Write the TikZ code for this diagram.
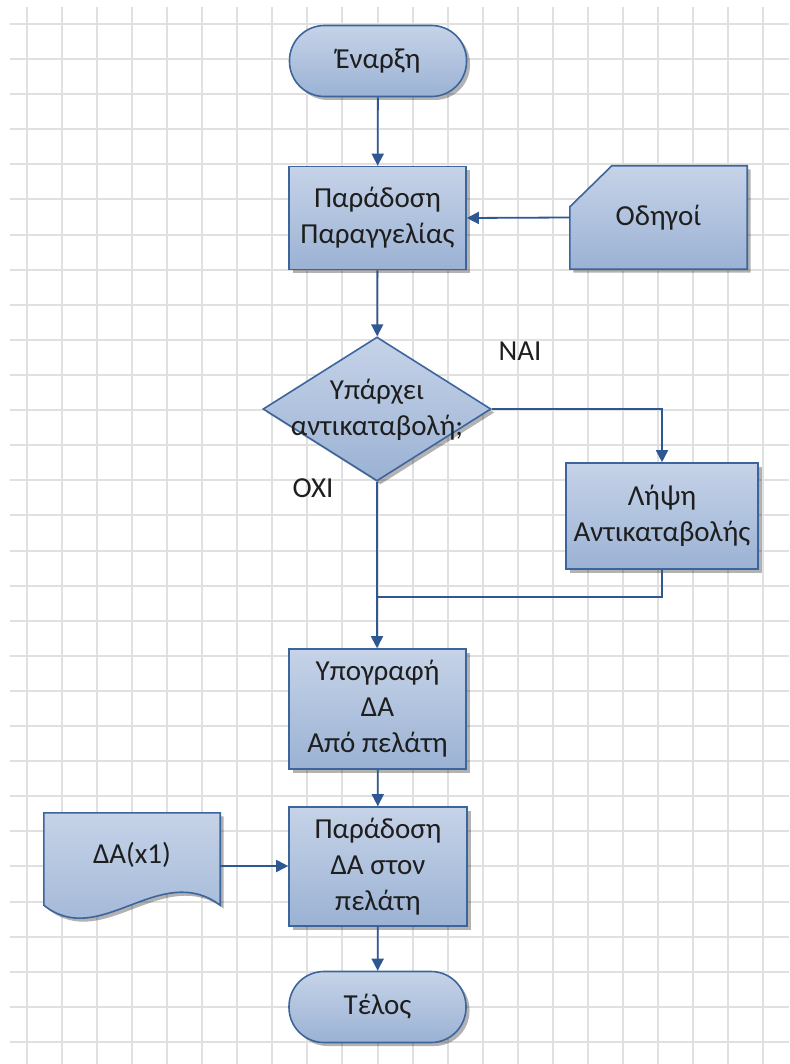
\documentclass[tikz,border=0pt]{standalone}
\usepackage{fontspec}
\setmainfont{Carlito}
\usetikzlibrary{shapes.geometric,shadows,arrows.meta,calc}
\definecolor{gridc}{HTML}{E0E0E0}
\definecolor{boxtop}{HTML}{C6D3E8}
\definecolor{boxbot}{HTML}{9BB2D4}
\definecolor{edgec}{HTML}{3D659D}
\definecolor{flowc}{HTML}{2F5893}
\definecolor{ink}{HTML}{1E1E1E}
\begin{document}
\begin{tikzpicture}[x=1pt,y=-1pt,
  font=\fontsize{29}{36}\selectfont, text=ink,
  fillshape/.style={draw=edgec, line width=1.6pt, top color=boxtop, bottom color=boxbot,
    drop shadow={shadow xshift=3.5pt, shadow yshift=-3.5pt, opacity=0.3, fill=black}},
  procbox/.style={fillshape, rectangle, align=center, inner sep=0pt},
  termbox/.style={fillshape, rectangle, rounded corners=35pt, minimum width=177pt, minimum height=71pt},
  frame/.style={rectangle, inner sep=0pt},
  lbl/.style={align=center, inner sep=0pt},
  flow/.style={draw=flowc, line width=1.8pt, -{Triangle[length=12pt,width=12pt]}},
  flowplain/.style={draw=flowc, line width=1.8pt}]

\useasboundingbox (0,0) rectangle (789,1064);

% background grid
\foreach \k in {0,...,21}
  \draw[gridc, line width=2pt] ({27+35.05*\k},7) -- ({27+35.05*\k},1064);
\foreach \k in {0,...,29}
  \draw[gridc, line width=2pt] (10,{24+35.1*\k}) -- (789,{24+35.1*\k});

% terminators
\node[termbox] (start) at (378,61) {Έναρξη};
\node[termbox] (end) at (377.5,1007) {Τέλος};

% process boxes
\node[procbox, minimum width=177pt, minimum height=103pt] (order) at (377.5,218) {Παράδοση\\Παραγγελίας};
\node[procbox, minimum width=192pt, minimum height=106pt] (cod) at (662,516) {Λήψη\\Αντικαταβολής};
\node[procbox, minimum width=177pt, minimum height=120pt] (sig) at (377.5,709) {Υπογραφή\\ΔΑ\\Από πελάτη};
\node[procbox, minimum width=178pt, minimum height=119pt] (deliv) at (378,866.5) {Παράδοση\\ΔΑ στον\\πελάτη};

% decision
\node[fillshape, diamond, inner sep=0pt, minimum width=228pt, minimum height=144pt] (dec) at (377,409) {};
\node[lbl] (decq) at (377,410) {Υπάρχει\\αντικαταβολή;};

% drivers: card with a cut top-left corner
\node[frame, minimum width=177pt, minimum height=103pt] (drv) at (658.5,217.5) {};
\path[fillshape] (drv.south west) -- ([yshift=-41pt]drv.north west) -- ([xshift=42pt]drv.north west)
  -- (drv.north east) -- (drv.south east) -- cycle;
\node[lbl] (drvt) at (drv) {Οδηγοί};

% delivery note: document with a wavy bottom edge
\node[frame, minimum width=176pt, minimum height=106pt] (da) at (132,866) {};
\path[fillshape] (da.north west) -- (da.north east) -- ($(da.south east)+(0,-14)$)
  .. controls ($(da.south west)+(116,-59)$) and ($(da.south west)+(56,31)$) .. ($(da.south west)+(0,-14)$)
  -- cycle;
\node[lbl] (dat) at ($(da)+(0,-11)$) {ΔΑ(x1)};

% branch labels
\node[lbl] (yes) at (520,351) {ΝΑΙ};
\node[lbl] (no) at (313,488) {ΟΧΙ};

% connectors
\coordinate (merge) at (378,597);
\draw[flow] (start) -- (order);
\draw[flow] (drv.west) -- (order.east);
\draw[flow] (order) -- (dec);
\draw[flow] (dec.east) -| (cod.north);
\draw[flowplain] (cod.south) |- (merge);
\draw[flow] (dec.south) -- (dec.south |- sig.north);
\draw[flow] (sig) -- (deliv);
\draw[flow] (da.east) -- (da.east -| deliv.west);
\draw[flow] (deliv) -- (end);
\end{tikzpicture}
\end{document}
